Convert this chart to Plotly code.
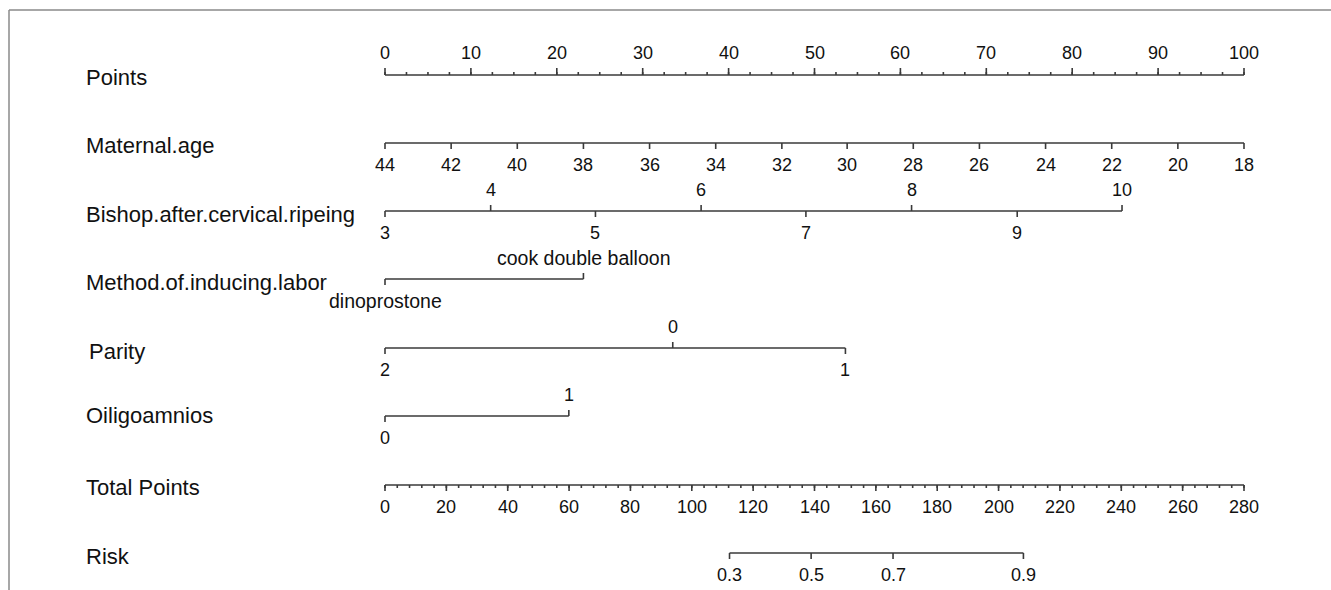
import plotly.graph_objects as go

# ---------------- data ----------------
points_major = [0, 10, 20, 30, 40, 50, 60, 70, 80, 90, 100]
points_minor_step = 2.5

age_labels = [44, 42, 40, 38, 36, 34, 32, 30, 28, 26, 24, 22, 20, 18]
age_points = [0, 7.7, 15.4, 23.1, 30.8, 38.5, 46.2, 53.8, 61.5, 69.2, 76.9, 84.6, 92.3, 100]

bishop_labels = [3, 4, 5, 6, 7, 8, 9, 10]
bishop_points = [0, 12.3, 24.5, 36.8, 49.0, 61.3, 73.6, 85.8]

method_labels = ["dinoprostone", "cook double balloon"]
method_points = [0, 23.1]

parity_labels = ["2", "0", "1"]
parity_points = [0, 33.5, 53.6]

oligo_labels = ["0", "1"]
oligo_points = [0, 21.4]

total_major = [0, 20, 40, 60, 80, 100, 120, 140, 160, 180, 200, 220, 240, 260, 280]
total_minor_step = 4

risk_labels = ["0.3", "0.5", "0.7", "0.9"]
risk_total_points = [112.3, 138.9, 165.6, 208.1]

row_names = ["Points", "Maternal.age", "Bishop.after.cervical.ripeing",
             "Method.of.inducing.labor", " Parity", "Oiligoamnios",
             "Total Points", "Risk"]

# ---------------- layout / style ----------------
W, H = 1331, 590
X0_PX, X1_PX = 385, 1244          # pixel position of scale start / end
PTS_MAX, TOT_MAX = 100, 280
LINE_COL = "#3a3a3a"
TXT_COL = "#111111"
FONT = "Liberation Sans, Arial, sans-serif"
LBL_SIZE = 22
TICK_SIZE = 18
CAT_SIZE = 19.5
LW = 1.6

row_y = {"Points": 75, "Maternal.age": 143, "Bishop.after.cervical.ripeing": 211,
         "Method.of.inducing.labor": 279, " Parity": 348, "Oiligoamnios": 416,
         "Total Points": 485, "Risk": 553}
name_y = {"Points": 77, "Maternal.age": 145, "Bishop.after.cervical.ripeing": 214,
          "Method.of.inducing.labor": 282, " Parity": 351, "Oiligoamnios": 415,
          "Total Points": 487, "Risk": 556}
LABEL_GAP_UP = 21
LABEL_GAP_DOWN = 22

def axis_range(vmax):
    scale = (X1_PX - X0_PX) / vmax
    return [-X0_PX / scale, (W - X0_PX) / scale]

fig = go.Figure()
annotations = []

def segments(xs0, ys0, xs1, ys1, xaxis="x", width=LW):
    xx, yy = [], []
    for a, b, c, d in zip(xs0, ys0, xs1, ys1):
        xx += [a, c, None]
        yy += [b, d, None]
    fig.add_trace(go.Scatter(x=xx, y=yy, mode="lines", xaxis=xaxis, yaxis="y",
                             line=dict(color=LINE_COL, width=width),
                             hoverinfo="skip", showlegend=False))

def label(x, y, text, xaxis="x", size=TICK_SIZE):
    annotations.append(dict(x=x, y=y, xref=xaxis, yref="y", text=text,
                            showarrow=False, xanchor="center", yanchor="middle",
                            font=dict(family=FONT, size=size, color=TXT_COL)))

def scale_row(name, vals, texts, ups, xaxis="x", tick_len=6):
    y = row_y[name]
    segments([min(vals)], [y], [max(vals)], [y], xaxis)
    ys1 = [y - tick_len if u else y + tick_len for u in ups]
    segments(vals, [y] * len(vals), vals, ys1, xaxis)
    for v, t, u in zip(vals, texts, ups):
        size = CAT_SIZE if isinstance(t, str) and len(t) > 3 else TICK_SIZE
        label(v, y - LABEL_GAP_UP if u else y + LABEL_GAP_DOWN, str(t), xaxis, size)

# Points
y = row_y["Points"]
n_minor = int(PTS_MAX / points_minor_step)
minor = [i * points_minor_step for i in range(n_minor + 1)]
segments([0], [y], [PTS_MAX], [y])
segments(minor, [y] * len(minor), minor, [y - 3] * len(minor))
segments(points_major, [y] * len(points_major), points_major, [y - 7] * len(points_major))
for v in points_major:
    label(v, y - 22, str(v))

# Maternal age
scale_row("Maternal.age", age_points, age_labels, [False] * len(age_labels))
# Bishop
scale_row("Bishop.after.cervical.ripeing", bishop_points, bishop_labels,
          [b % 2 == 0 for b in bishop_labels])
# Method
scale_row("Method.of.inducing.labor", method_points, method_labels, [False, True])
# Parity
scale_row(" Parity", parity_points, parity_labels, [False, True, False])
# Oligo
scale_row("Oiligoamnios", oligo_points, oligo_labels, [False, True])

# Total points
y = row_y["Total Points"]
n_tmin = int(TOT_MAX / total_minor_step)
tminor = [i * total_minor_step for i in range(n_tmin + 1)]
segments([0], [y], [TOT_MAX], [y], "x2")
segments(tminor, [y] * len(tminor), tminor, [y + 3] * len(tminor), "x2")
segments(total_major, [y] * len(total_major), total_major, [y + 6] * len(total_major), "x2")
for v in total_major:
    label(v, y + 22, str(v), "x2")

# Risk
scale_row("Risk", risk_total_points, risk_labels, [False] * len(risk_labels), "x2")

# Row names
for n in row_names:
    annotations.append(dict(x=(84 if not n.startswith(" ") else 87) / W, y=name_y[n],
                            xref="paper", yref="y", text=n.strip(), showarrow=False,
                            xanchor="left", yanchor="middle",
                            font=dict(family=FONT, size=LBL_SIZE, color=TXT_COL)))

hidden = dict(visible=False, showgrid=False, zeroline=False, fixedrange=True)
fig.update_layout(
    width=W, height=H, margin=dict(l=0, r=0, t=0, b=0),
    paper_bgcolor="white", plot_bgcolor="white",
    xaxis=dict(range=axis_range(PTS_MAX), **hidden),
    xaxis2=dict(range=axis_range(TOT_MAX), overlaying="x", anchor="y", **hidden),
    yaxis=dict(range=[H, 0], **hidden),
    annotations=annotations,
    shapes=[
        dict(type="line", xref="paper", yref="paper", x0=9 / W, x1=1, y0=1 - 10 / H, y1=1 - 10 / H,
             line=dict(color="#8a8a8a", width=1.5)),
        dict(type="line", xref="paper", yref="paper", x0=9 / W, x1=9 / W, y0=0, y1=1 - 10 / H,
             line=dict(color="#8a8a8a", width=1.5)),
    ],
)

fig.write_html("out.html", config={"displayModeBar": False},
               post_script="document.body.style.margin='0';")
